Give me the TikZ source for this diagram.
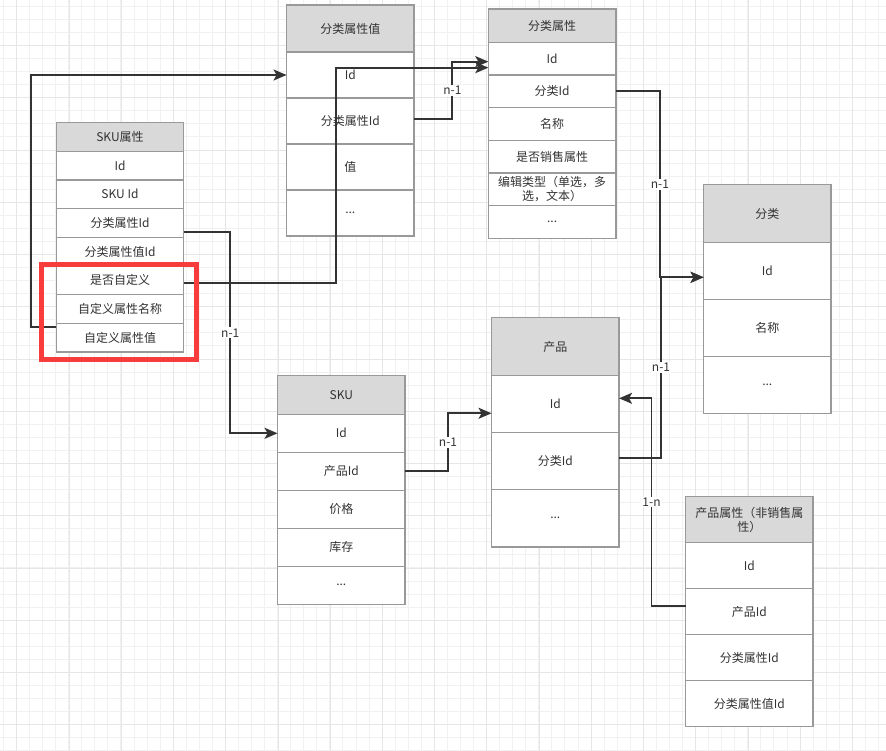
\documentclass[tikz,border=0pt]{standalone}
\usepackage{fontspec}
\setmainfont{Noto Sans CJK SC}
\usepackage{xcolor}
\usepackage{tikz}
\usetikzlibrary{positioning,calc,arrows.meta}

\definecolor{txt}{HTML}{333333}
\definecolor{frame}{HTML}{999999}
\definecolor{headfill}{HTML}{D9D9D9}
\definecolor{gridminor}{HTML}{F1F1F1}
\definecolor{gridmajor}{HTML}{E6E6E6}
\definecolor{hilite}{HTML}{F83B3B}

\begin{document}
\begin{tikzpicture}[x=1pt, y=-1pt,
    every node/.style={font=\fontsize{12}{14}\selectfont, text=txt},
    hd/.style={draw=frame, line width=1.3pt, fill=headfill, minimum width=127.5pt, minimum height=#1, outer sep=0pt, inner sep=1pt, align=center},
    row/.style={draw=frame, line width=1.3pt, fill=white, minimum width=127.5pt, minimum height=#1, outer sep=0pt, inner sep=1pt, align=center},
    link/.style={draw=txt, line width=1.8pt, -{Stealth[length=13pt, width=11pt, inset=3pt]}},
    lbl/.style={fill=white, inner sep=1pt, font=\fontsize{12}{14}\selectfont}]
        \path[use as bounding box, fill=white] (0,0) rectangle (886,751);
        % background grid
        \begin{scope}
            \clip (0,0) rectangle (886,751);
            \draw[draw=gridminor, line width=0.8pt, xshift=3.3pt, yshift=-6.3pt, step=13.06pt] (-14pt,-760pt) grid (900pt,14pt);
            \draw[draw=gridmajor, line width=0.8pt, xshift=16.7pt, yshift=-45.5pt, step=52.24pt] (-60pt,-760pt) grid (900pt,60pt);
        \end{scope}

        % SKU属性
        \node[hd=28.7pt] (sa) at (120,136.85) {SKU属性};
        \node[row=28.7pt, below=0pt of sa] (sa1) {Id};
        \node[row=28.7pt, below=0pt of sa1] (sa2) {SKU Id};
        \node[row=28.7pt, below=0pt of sa2] (sa3) {分类属性Id};
        \node[row=28.7pt, below=0pt of sa3] (sa4) {分类属性值Id};
        \node[row=28.7pt, below=0pt of sa4] (sa5) {是否自定义};
        \node[row=28.7pt, below=0pt of sa5] (sa6) {自定义属性名称};
        \node[row=28.7pt, below=0pt of sa6] (sa7) {自定义属性值};

        % 分类属性值
        \node[hd=47pt] (cav) at (350.3,28.5) {分类属性值};
        \node[row=46pt, below=0pt of cav] (cav1) {Id};
        \node[row=46pt, below=0pt of cav1] (cav2) {分类属性Id};
        \node[row=46pt, below=0pt of cav2] (cav3) {值};
        \node[row=46pt, below=0pt of cav3] (cav4) {...};

        % 分类属性
        \node[hd=33.3pt] (ca) at (552.1,25.65) {分类属性};
        \node[row=32.7pt, below=0pt of ca] (ca1) {Id};
        \node[row=32.7pt, below=0pt of ca1] (ca2) {分类Id};
        \node[row=32.7pt, below=0pt of ca2] (ca3) {名称};
        \node[row=32.7pt, below=0pt of ca3] (ca4) {是否销售属性};
        \node[row=32.7pt, below=0pt of ca4] (ca5) {编辑类型（单选，多\\选，文本）};
        \node[row=32.7pt, below=0pt of ca5] (ca6) {...};

        % 分类
        \node[hd=57.6pt] (cat) at (767.3,213.5) {分类};
        \node[row=57pt, below=0pt of cat] (cat1) {Id};
        \node[row=57pt, below=0pt of cat1] (cat2) {名称};
        \node[row=57pt, below=0pt of cat2] (cat3) {...};

        % 产品
        \node[hd=57.6pt] (prd) at (555.3,346.5) {产品};
        \node[row=57.2pt, below=0pt of prd] (prd1) {Id};
        \node[row=57.2pt, below=0pt of prd1] (prd2) {分类Id};
        \node[row=57.2pt, below=0pt of prd2] (prd3) {...};

        % SKU
        \node[hd=38.6pt] (sku) at (341.3,395) {SKU};
        \node[row=38pt, below=0pt of sku] (sku1) {Id};
        \node[row=38pt, below=0pt of sku1] (sku2) {产品Id};
        \node[row=38pt, below=0pt of sku2] (sku3) {价格};
        \node[row=38pt, below=0pt of sku3] (sku4) {库存};
        \node[row=38pt, below=0pt of sku4] (sku5) {...};

        % 产品属性
        \node[hd=46.4pt] (pa) at (749.3,519.5) {产品属性（非销售属\\性）};
        \node[row=46pt, below=0pt of pa] (pa1) {Id};
        \node[row=46pt, below=0pt of pa1] (pa2) {产品Id};
        \node[row=46pt, below=0pt of pa2] (pa3) {分类属性Id};
        \node[row=46pt, below=0pt of pa3] (pa4) {分类属性值Id};

        % links
        \draw[link] ($(sa7.north west)+(0,3.3)$) -- ++(-25.3,0) |- (cav1.west);
        \draw[link] ($(sa5.east)+(0,2.3)$) -- ++(152,0) |- ($(ca1.west)+(0,9)$);
        \draw[link] ($(cav2.east)+(0,-2)$) -- ++(38.3,0) |- node[lbl, pos=0.25] {n-1} ($(ca1.west)+(0,3)$);
        \draw[link] ($(sa3.east)+(0,9.3)$) -- ++(46.5,0) |- node[lbl, pos=0.25] {n-1} (sku1.west);
        \draw[link] (sku2.east) -- ++(43,0) |- node[lbl, pos=0.25] {n-1} ($(prd1.west)+(0,9.4)$);
        \draw[link] (ca2.east) -- ++(44,0) |- node[lbl, pos=0.25] {n-1} ($(cat1.west)+(0,6.5)$);
        \draw[link] ($(prd2.east)+(0,-3)$) -- ++(42,0) |- node[lbl, pos=0.25] {n-1} ($(cat1.west)+(0,6.5)$);
        \draw[link] ($(pa2.west)+(0,-5.7)$) -- ++(-34,0) |- node[lbl, pos=0.25] {1-n} ($(prd1.east)+(0,-5.6)$);

        % highlight
        \draw[draw=hilite, line width=5pt] (41.5,264.5) rectangle (196.5,359.5);
    \end{tikzpicture}
\end{document}
